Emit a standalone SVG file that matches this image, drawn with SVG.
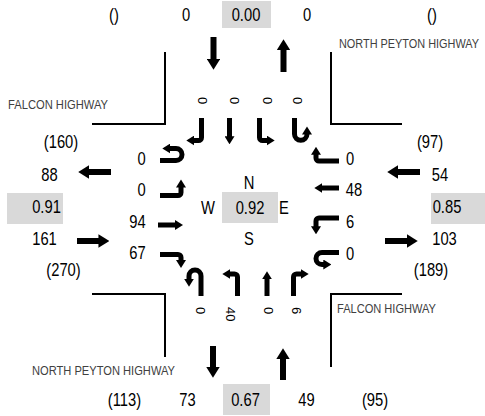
<svg xmlns="http://www.w3.org/2000/svg" width="485" height="416" viewBox="0 0 485 416">
<style>
  text { font-family: "Liberation Sans", Arial, sans-serif; fill: #000; }
  .n { font-size: 18px; text-anchor: middle; transform-box: fill-box; transform-origin: center; transform: scaleX(0.82); }
  .r { font-size: 13px; }
  .m { text-anchor: middle; }
  .road { font-size: 12.5px; fill: #404040; }
  .box { fill: #d9d9d9; }
  .curb { fill: none; stroke: #000; stroke-width: 2; }
  .big { fill: none; stroke: #000; stroke-width: 6; marker-end: url(#hb); }
  .lane { fill: none; stroke: #000; stroke-width: 5; marker-end: url(#hl); }
</style>
<defs>
  <marker id="hb" viewBox="0 0 8 10" refX="1" refY="5" markerWidth="1.85" markerHeight="2.25" orient="auto" markerUnits="strokeWidth">
    <path d="M0,0 L8,5 L0,10 z" fill="#000"/>
  </marker>
  <marker id="hl" viewBox="0 0 8 10" refX="1" refY="5" markerWidth="1.66" markerHeight="2" orient="auto" markerUnits="strokeWidth">
    <path d="M0,0 L8,5 L0,10 z" fill="#000"/>
  </marker>
</defs>

<g id="curbs">
  <polyline class="curb" points="165,52 165,124 92,124"/>
  <polyline class="curb" points="331,52 331,124 402,124"/>
  <polyline class="curb" points="92,294 165,294 165,357"/>
  <polyline class="curb" points="402,294 331,294 331,367"/>
</g>

<g id="road-names">
  <text class="road" x="339" y="48" textLength="140" lengthAdjust="spacingAndGlyphs">NORTH PEYTON HIGHWAY</text>
  <text class="road" x="8" y="109" textLength="100" lengthAdjust="spacingAndGlyphs">FALCON HIGHWAY</text>
  <text class="road" x="337" y="313" textLength="99" lengthAdjust="spacingAndGlyphs">FALCON HIGHWAY</text>
  <text class="road" x="32" y="375" textLength="143" lengthAdjust="spacingAndGlyphs">NORTH PEYTON HIGHWAY</text>
</g>

<g id="north-approach">
  <rect class="box" x="222" y="1" width="49" height="27"/>
  <text class="n" x="114" y="21">()</text>
  <text class="n" x="186" y="21">0</text>
  <text class="n" x="246" y="21">0.00</text>
  <text class="n" x="307" y="21">0</text>
  <text class="n" x="432" y="21">()</text>
  <text class="r m" transform="translate(198,100.5) rotate(90)">0</text>
  <text class="r m" transform="translate(229.5,100.5) rotate(90)">0</text>
  <text class="r m" transform="translate(263,100.5) rotate(90)">0</text>
  <text class="r m" transform="translate(293,100.5) rotate(90)">0</text>
</g>

<g id="west-approach">
  <rect class="box" x="7" y="193" width="56" height="31"/>
  <text class="n" x="61" y="148">(160)</text>
  <text class="n" x="49.5" y="181">88</text>
  <text class="n" x="46.5" y="213">0.91</text>
  <text class="n" x="44.5" y="245">161</text>
  <text class="n" x="63.5" y="276">(270)</text>
  <text class="n" x="141.5" y="165">0</text>
  <text class="n" x="141.5" y="196">0</text>
  <text class="n" x="137.5" y="228">94</text>
  <text class="n" x="137.5" y="259">67</text>
</g>

<g id="east-approach">
  <rect class="box" x="431" y="193" width="54" height="31"/>
  <text class="n" x="430" y="148">(97)</text>
  <text class="n" x="440" y="181">54</text>
  <text class="n" x="447" y="213">0.85</text>
  <text class="n" x="444.5" y="245">103</text>
  <text class="n" x="431" y="276">(189)</text>
  <text class="n" x="350" y="165">0</text>
  <text class="n" x="354" y="196">48</text>
  <text class="n" x="350" y="228">6</text>
  <text class="n" x="350" y="260">0</text>
</g>

<g id="south-approach">
  <rect class="box" x="223" y="384" width="47" height="31"/>
  <text class="n" x="124.5" y="406">(113)</text>
  <text class="n" x="187.5" y="406">73</text>
  <text class="n" x="245.5" y="406">0.67</text>
  <text class="n" x="306.5" y="406">49</text>
  <text class="n" x="375" y="406">(95)</text>
  <text class="r" transform="translate(195.5,307) rotate(90)">0</text>
  <text class="r" transform="translate(225.5,307) rotate(90)">40</text>
  <text class="r" transform="translate(263.5,307) rotate(90)">0</text>
  <text class="r" transform="translate(292,307) rotate(90)">6</text>
</g>

<g id="center">
  <rect class="box" x="222" y="192" width="56" height="31"/>
  <text class="n" x="249" y="189">N</text>
  <text class="n" x="208" y="214">W</text>
  <text class="n" x="250" y="214">0.92</text>
  <text class="n" x="284" y="214">E</text>
  <text class="n" x="249" y="245">S</text>
</g>

<g id="connectors">
  <path class="big" d="M213.5,37 V60.3"/>
  <path class="big" d="M283.5,72 V48.7"/>
  <path class="big" d="M213,346 V368.3"/>
  <path class="big" d="M283,380 V357.7"/>
  <path class="big" d="M111,172 H87.7"/>
  <path class="big" d="M77,241 H99.8"/>
  <path class="big" d="M420,172 H396.7"/>
  <path class="big" d="M385,241 H408.3"/>

  <path class="lane" d="M201.5,118 V137.5 A3,3 0 0 1 198.5,140.5 H193.3"/>
  <path class="lane" d="M229.5,118 V137.3"/>
  <path class="lane" d="M259.5,118 V137.5 A3,3 0 0 0 262.5,140.5 H267.7"/>
  <path class="lane" d="M294.5,118 V134 A6.25,6.25 0 0 0 307,134 V133.5"/>

  <path class="lane" d="M160,160.5 H176 A6,6 0 0 0 176,148.5 H169.3"/>
  <path class="lane" d="M160,195.5 H178 A3,3 0 0 0 181,192.5 V186.5"/>
  <path class="lane" d="M158,225 H176"/>
  <path class="lane" d="M160,254.5 H178 A3,3 0 0 1 181,257.5 V261"/>

  <path class="lane" d="M201,296 V276 A6,6 0 0 0 189,276 V279.7"/>
  <path class="lane" d="M237.5,296 V277 A3,3 0 0 0 234.5,274 H229.3"/>
  <path class="lane" d="M267,296 V278.3"/>
  <path class="lane" d="M293.5,296 V277 A3,3 0 0 1 296.5,274 H301.7"/>

  <path class="lane" d="M339,161 H319 A3,3 0 0 1 316,158 V153.8"/>
  <path class="lane" d="M339,188 H321.3"/>
  <path class="lane" d="M339,218 H319 A3,3 0 0 0 316,221 V227.3"/>
  <path class="lane" d="M339,252.5 H322 A6,6 0 0 0 322,264.5 H324.3"/>
</g>
</svg>
